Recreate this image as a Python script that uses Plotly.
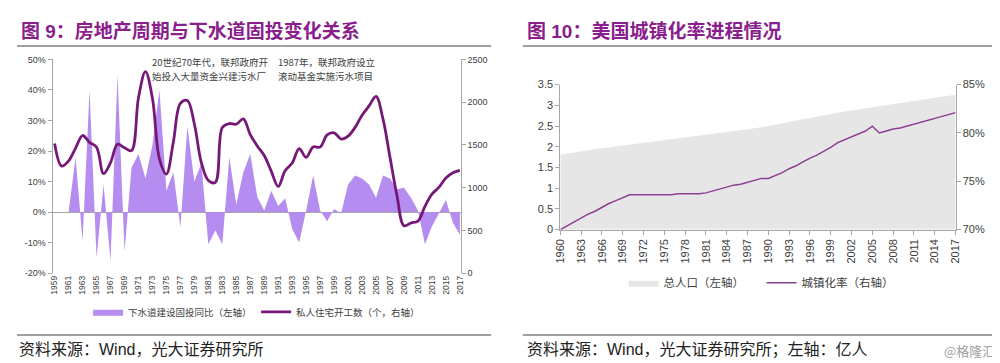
import plotly.graph_objects as go

# ---------------- data: left chart ----------------
years_l = list(range(1959, 2018))
sewer_yoy = [None, None, 0, 18, -9.5, 40, -15, 9, -16, 45,
             -13, 14.5, 19, 11, 22, 40, 7, 13, -5, 28,
             10, 16, -10.5, -6, -10.5, 18, 2.5, 13, 19, 5,
             0.5, 7, 2, 4.5, -5.5, -10, 0.5, 12, 0.5, -3,
             1, -0.5, 9, 12, 11, 9, 4.7, 12, 11, 7.5,
             8, 4.7, 0.5, -10.5, -4.7, -0.5, 4, -3.5, -7.4]
housing_starts = [1517, 1252, 1313, 1463, 1610, 1529, 1473, 1165, 1292, 1508,
                  1467, 1434, 2052, 2357, 2045, 1338, 1160, 1538, 1987, 2020,
                  1745, 1292, 1084, 1062, 1703, 1750, 1742, 1805, 1621, 1488,
                  1376, 1193, 1014, 1200, 1288, 1457, 1354, 1477, 1474, 1617,
                  1641, 1569, 1603, 1705, 1848, 1956, 2068, 1801, 1355, 906,
                  554, 587, 609, 781, 925, 1003, 1112, 1174, 1203]
left_ticks = years_l[::2]
left_y_ticks = [-20, -10, 0, 10, 20, 30, 40, 50]
right_y_ticks = [0, 500, 1000, 1500, 2000, 2500]

# ---------------- data: right chart ----------------
years_r = list(range(1960, 2018))
population = [1.807, 1.837, 1.865, 1.892, 1.919, 1.943, 1.966, 1.987, 2.007, 2.027,
              2.051, 2.077, 2.099, 2.119, 2.139, 2.160, 2.180, 2.202, 2.226, 2.251,
              2.272, 2.295, 2.317, 2.338, 2.358, 2.379, 2.401, 2.423, 2.445, 2.468,
              2.496, 2.530, 2.565, 2.599, 2.631, 2.663, 2.694, 2.727, 2.759, 2.790,
              2.822, 2.850, 2.876, 2.901, 2.928, 2.955, 2.984, 3.012, 3.041, 3.068,
              3.093, 3.116, 3.139, 3.161, 3.184, 3.207, 3.231, 3.251]
urban_rate = [70.0, 70.4, 70.8, 71.2, 71.6, 71.9, 72.3, 72.7, 73.0, 73.3,
              73.6, 73.6, 73.6, 73.6, 73.6, 73.6, 73.6, 73.7, 73.7, 73.7,
              73.7, 73.8, 74.0, 74.2, 74.4, 74.6, 74.7, 74.9, 75.1, 75.3,
              75.3, 75.6, 75.9, 76.3, 76.6, 77.0, 77.4, 77.7, 78.1, 78.5,
              79.0, 79.3, 79.6, 79.9, 80.2, 80.7, 80.0, 80.2, 80.4, 80.5,
              80.7, 80.9, 81.1, 81.3, 81.5, 81.7, 81.9, 82.1]
right_x_ticks = years_r[::3]
pop_ticks = [0, 0.5, 1, 1.5, 2, 2.5, 3, 3.5]
urban_ticks = [70, 75, 80, 85]

# ---------------- styles ----------------
W, H = 1000, 363
AREA_L = "#B58CF0"
LINE_L = "#761877"
AREA_R = "#E6E6E6"
LINE_R = "#8E3F91"
AXIS = "#A6A6A6"
TXT = "#404040"
PURPLE = "#8A1E8C"
SANS = "Liberation Sans, Arial, sans-serif"
CJK = "Noto Sans CJK SC, sans-serif"
MIXED = "Liberation Sans, Noto Sans CJK SC, sans-serif"


def px(x):
    return x / W


def py(y):
    return 1 - y / H


fig = go.Figure()

fig.add_trace(go.Scatter(
    x=years_l, y=sewer_yoy, mode="lines", fill="tozeroy",
    fillcolor=AREA_L, line=dict(width=0, color=AREA_L),
    name="下水道建设固投同比（左轴）", xaxis="x", yaxis="y", legend="legend"))
fig.add_trace(go.Scatter(
    x=years_l, y=housing_starts, mode="lines",
    line=dict(color=LINE_L, width=2.8, shape="spline", smoothing=1),
    name="私人住宅开工数（个，右轴）", xaxis="x", yaxis="y2", legend="legend"))

fig.add_trace(go.Scatter(
    x=years_r, y=population, mode="lines", fill="tozeroy",
    fillcolor=AREA_R, line=dict(width=0, color=AREA_R),
    name="总人口（左轴）", xaxis="x2", yaxis="y3", legend="legend2"))
fig.add_trace(go.Scatter(
    x=years_r, y=urban_rate, mode="lines",
    line=dict(color=LINE_R, width=1.5),
    name="城镇化率（右轴）", xaxis="x2", yaxis="y4", legend="legend2"))

ax_common = dict(showgrid=False, linecolor=AXIS, tickcolor=AXIS, ticklen=4,
                 tickfont=dict(family=SANS, color=TXT))

fig.update_layout(
    width=W, height=H,
    margin=dict(l=0, r=0, t=0, b=0),
    paper_bgcolor="white", plot_bgcolor="white",
    font=dict(family=CJK, color=TXT),
    showlegend=True,
    xaxis=dict(domain=[px(39), px(452)], range=[1958.7, 2017.1], anchor="y",
               tickmode="array", tickvals=left_ticks, ticktext=[str(v) for v in left_ticks],
               tickangle=-90, showline=False, ticks="", zeroline=False, showgrid=False,
               tickfont=dict(family=SANS, size=8.5, color=TXT)),
    yaxis=dict(domain=[py(268), py(47)], range=[-20, 50], anchor="x",
               tickmode="array", tickvals=left_y_ticks,
               ticktext=[f"{v}%" for v in left_y_ticks],
               showline=True, ticks="outside", zeroline=True, zerolinecolor=AXIS,
               zerolinewidth=1, **{**ax_common, "tickfont": dict(family=SANS, size=9, color=TXT)}),
    yaxis2=dict(range=[0, 2500], overlaying="y", side="right", anchor="x",
                tickmode="array", tickvals=right_y_ticks,
                showline=True, ticks="outside", zeroline=False,
                **{**ax_common, "tickfont": dict(family=SANS, size=9, color=TXT)}),
    xaxis2=dict(domain=[px(553), px(953)], range=[1960, 2017], anchor="y3",
                tickmode="array", tickvals=right_x_ticks, ticktext=[str(v) for v in right_x_ticks],
                tickangle=-90, showline=True, ticks="outside", zeroline=False,
                **{**ax_common, "tickfont": dict(family=SANS, size=11, color=TXT)}),
    yaxis3=dict(domain=[py(223), py(73)], range=[0, 3.5], anchor="x2",
                tickmode="array", tickvals=pop_ticks, ticktext=[f"{v:g}" for v in pop_ticks],
                showline=True, ticks="outside", zeroline=False,
                **{**ax_common, "tickfont": dict(family=SANS, size=11, color=TXT)}),
    yaxis4=dict(range=[70, 85], overlaying="y3", side="right", anchor="x2",
                tickmode="array", tickvals=urban_ticks, ticktext=[f"{v}%" for v in urban_ticks],
                showline=True, ticks="outside", zeroline=False,
                **{**ax_common, "tickfont": dict(family=SANS, size=11, color=TXT)}),
    legend=dict(orientation="h", x=px(75), y=py(308), xanchor="left", yanchor="middle",
                bgcolor="rgba(0,0,0,0)", font=dict(family=CJK, size=9.5, color=TXT),
                entrywidth=123, entrywidthmode="pixels", itemwidth=30),
    legend2=dict(orientation="h", x=px(617), y=py(278), xanchor="left", yanchor="middle",
                 bgcolor="rgba(0,0,0,0)", font=dict(family=CJK, size=11.5, color=TXT),
                 entrywidth=93, entrywidthmode="pixels", itemwidth=30),
)

shapes = []
for x0, x1 in [(3, 483), (515, 998)]:
    shapes.append(dict(type="line", xref="paper", yref="paper", x0=px(x0), x1=px(x1),
                       y0=py(33), y1=py(33), line=dict(color="#A0A0A0", width=2)))
    shapes.append(dict(type="line", xref="paper", yref="paper", x0=px(x0), x1=px(x1),
                       y0=py(332), y1=py(332), line=dict(color="#A0A0A0", width=2)))
fig.update_layout(shapes=shapes)

annotations = [
    dict(text="<b>图 9：房地产周期与下水道固投变化关系</b>", x=px(5), y=py(18),
         font=dict(family=MIXED, size=19, color=PURPLE)),
    dict(text="<b>图 10：美国城镇化率进程情况</b>", x=px(517), y=py(18),
         font=dict(family=MIXED, size=19, color=PURPLE)),
    dict(text="资料来源：Wind，光大证券研究所", x=px(3), y=py(347),
         font=dict(family=MIXED, size=16, color="#222222")),
    dict(text="资料来源：Wind，光大证券研究所；左轴：亿人", x=px(517), y=py(347),
         font=dict(family=MIXED, size=16, color="#222222")),
    dict(text="20世纪70年代，联邦政府开", x=px(138), y=py(50),
         font=dict(family=CJK, size=9.5, color=TXT)),
    dict(text="始投入大量资金兴建污水厂", x=px(138), y=py(64),
         font=dict(family=CJK, size=9.5, color=TXT)),
    dict(text="1987年，联邦政府设立", x=px(265), y=py(50),
         font=dict(family=CJK, size=9.5, color=TXT)),
    dict(text="滚动基金实施污水项目", x=px(265), y=py(64),
         font=dict(family=CJK, size=9.5, color=TXT)),
]
for a in annotations:
    a.update(xref="paper", yref="paper", xanchor="left", yanchor="middle", showarrow=False)
annotations.append(dict(text="@格隆汇", x=px(995), y=py(348), xref="paper", yref="paper",
                        xanchor="right", yanchor="middle", showarrow=False,
                        font=dict(family=CJK, size=13, color="#A0A0A0")))
fig.update_layout(annotations=annotations)

fig.write_html("out.html")
